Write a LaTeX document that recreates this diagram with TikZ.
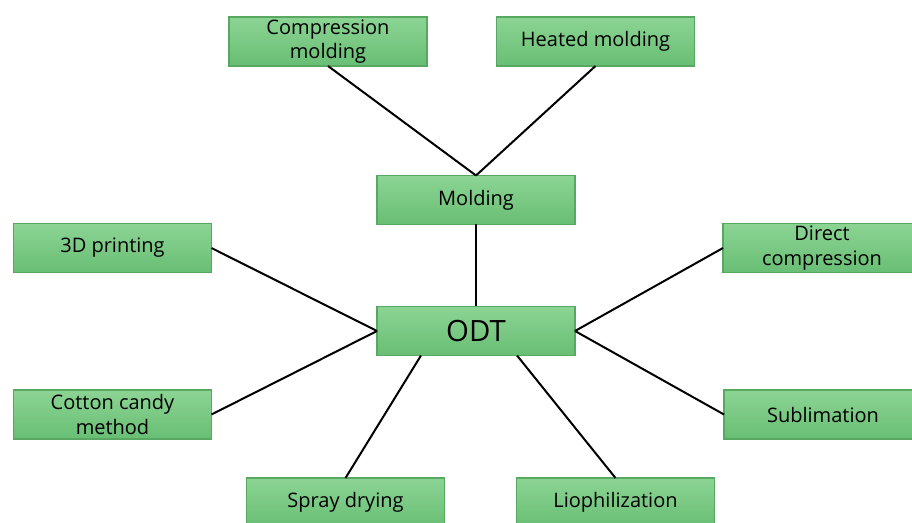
\documentclass[tikz,border=0pt]{standalone}
\usepackage{fontspec}
\setmainfont{Open Sans}
\usetikzlibrary{calc}
\definecolor{boxtop}{RGB}{140,212,148}
\definecolor{boxbot}{RGB}{104,190,116}
\definecolor{boxline}{RGB}{88,168,98}
\begin{document}
\begin{tikzpicture}[x=0.75pt,y=-0.75pt,
    method/.style = {rectangle,draw=boxline,line width=0.9pt,top color=boxtop,bottom color=boxbot,
                     minimum width=148.5pt,minimum height=36.75pt,inner sep=0pt,outer sep=0pt,
                     align=center,font=\fontsize{15}{18.5}\selectfont},
    link/.style = {line width=1.5pt,black}]
\useasboundingbox (0,0) rectangle (912,523);
\node[method] (comp) at (328,41.5) {Compression\\molding};
\node[method] (heated) at (595.5,41.5) {Heated molding};
\node[method] (molding) at (476,200) {Molding};
\node[method,font=\fontsize{22}{24}\selectfont] (odt) at (476,331) {ODT};
\node[method] (print) at (112.5,248) {3D printing};
\node[method] (direct) at (822,248) {Direct\\compression};
\node[method] (cotton) at (112.5,414.5) {Cotton candy\\method};
\node[method] (sublim) at (823,414.5) {Sublimation};
\node[method] (spray) at (345.5,502.5) {Spray drying};
\node[method] (lioph) at (615.5,502.5) {Liophilization};
\draw[link] (comp.south) -- (molding.north);
\draw[link] (heated.south) -- (molding.north);
\draw[link] (molding.south) -- (odt.north);
\draw[link] (print.east) -- (odt.west);
\draw[link] (cotton.east) -- (odt.west);
\draw[link] (direct.west) -- (odt.east);
\draw[link] (sublim.west) -- (odt.east);
\draw[link] (spray.north) -- ($(odt.south)+(-55,0)$);
\draw[link] (lioph.north) -- ($(odt.south)+(41,0)$);
\end{tikzpicture}
\end{document}
